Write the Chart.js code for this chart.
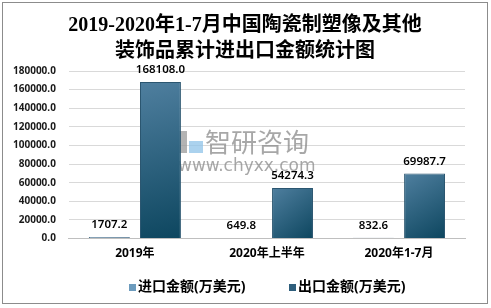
<!DOCTYPE html>
<html>
<head>
<meta charset="utf-8">
<script src="https://cdn.jsdelivr.net/npm/chart.js@4.4.1/dist/chart.umd.min.js"></script>
<style>
  html, body { margin: 0; padding: 0; background: #fff; }
  #wrap { width: 491px; height: 308px; }
</style>
</head>
<body>
<div id="wrap"><canvas id="tradeChart" width="491" height="308"></canvas></div>
<script>
const categories = ['2019年', '2020年上半年', '2020年1-7月'];
const importValues = [1707.2, 649.8, 832.6];
const exportValues = [168108.0, 54274.3, 69987.7];
const seriesNames = ['进口金额(万美元)', '出口金额(万美元)'];
const legendColors = ['#6c9bbd', '#2e5e7c'];
const titleLines = ['2019-2020年1-7月中国陶瓷制塑像及其他', '装饰品累计进出口金额统计图'];

const sansFont = '"Noto Sans", "Noto Sans CJK SC", sans-serif';

function barGradient(ctx, light, dark) {
    const chart = ctx.chart;
    if (!chart.chartArea || !chart.scales.x) return dark;
    const xs = chart.scales.x;
    const ys = chart.scales.y;
    const cx = xs.getPixelForValue(ctx.dataIndex) + (ctx.datasetIndex === 0 ? -25 : 25);
    const top = ys.getPixelForValue(ctx.raw);
    const bottom = ys.getPixelForValue(0);
    const g = chart.ctx.createLinearGradient(cx - 20, top, cx + 20, bottom);
    g.addColorStop(0, light);
    g.addColorStop(1, dark);
    return g;
}

// white page with thin grey frame, and the two-line title centred on the page
const framePlugin = {
    id: 'frame',
    beforeDraw(chart) {
        const c = chart.ctx;
        c.save();
        c.fillStyle = '#fff';
        c.fillRect(0, 0, chart.width, chart.height);
        c.strokeStyle = '#8c8c8c';
        c.lineWidth = 1;
        c.strokeRect(2.5, 2.5, 485, 301);
        c.fillStyle = '#000';
        c.font = 'bold 20px "Liberation Serif", "Noto Sans CJK SC", serif';
        c.textAlign = 'center';
        c.textBaseline = 'middle';
        titleLines.forEach((line, i) => c.fillText(line, 245, 26 + i * 26));
        c.restore();
    },
};

// faint watermark in the middle of the plot
const watermarkPlugin = {
    id: 'watermark',
    beforeDatasetsDraw(chart) {
        const c = chart.ctx;
        c.save();
        c.globalAlpha = 0.75;
        c.fillStyle = '#9a9a9a';
        c.fillRect(178, 131, 9, 22);
        c.fillStyle = '#8fc3e8';
        c.fillRect(189, 141, 14, 12);
        c.fillStyle = '#8a8a8a';
        c.font = '26px "Noto Sans CJK SC", sans-serif';
        c.textBaseline = 'middle';
        c.fillText('智研咨询', 205, 142);
        c.font = '17px "DejaVu Sans", sans-serif';
        c.fillText('www.chyxx.com', 178, 167);
        c.restore();
    },
};

// value labels above bars + legend row at the bottom
const valueLabelPlugin = {
    id: 'valueLabels',
    afterDatasetsDraw(chart) {
        const c = chart.ctx;
        c.save();
        c.fillStyle = '#000';
        c.font = '600 11.5px ' + sansFont;
        c.textAlign = 'center';
        c.textBaseline = 'middle';
        chart.data.datasets.forEach((ds, i) => {
            chart.getDatasetMeta(i).data.forEach((bar, j) => {
                c.fillText(ds.data[j].toFixed(1), bar.x, bar.y - 12);
            });
        });
        c.restore();
    },
    afterDraw(chart) {
        const c = chart.ctx;
        c.save();
        c.font = 'bold 14px ' + sansFont;
        c.textBaseline = 'middle';
        c.textAlign = 'left';
        let x = 129;
        const y = 287;
        seriesNames.forEach((name, i) => {
            c.fillStyle = legendColors[i];
            c.fillRect(x, y - 3, 7, 7);
            c.fillStyle = '#000';
            c.fillText(name, x + 9, y);
            x += 160;
        });
        c.restore();
    },
};

const ctxTrade = document.getElementById('tradeChart').getContext('2d');
const tradeChart = new Chart(ctxTrade, {
    type: 'bar',
    data: {
        labels: categories,
        datasets: [
            {
                label: seriesNames[0],
                data: importValues,
                backgroundColor: (ctx) => barGradient(ctx, '#7195b0', '#4d7390'),
                borderColor: '#3d6581',
                borderWidth: 1,
            },
            {
                label: seriesNames[1],
                data: exportValues,
                backgroundColor: (ctx) => barGradient(ctx, '#4f7f9f', '#0d465f'),
                borderColor: '#2b5670',
                borderWidth: 1,
            },
        ],
    },
    options: {
        responsive: false,
        animation: false,
        devicePixelRatio: 1,
        categoryPercentage: 0.775,
        barPercentage: 0.8,
        layout: {
            padding: { left: 0, right: 26, top: 71, bottom: 39 },
        },
        scales: {
            y: {
                min: 0,
                max: 180000,
                ticks: {
                    stepSize: 20000,
                    padding: 13,
                    color: '#1a1a1a',
                    font: { size: 10, weight: 'bold', family: sansFont },
                    callback: (v) => v.toFixed(1),
                },
                grid: { color: '#d9d9d9', drawTicks: false },
                border: { display: false },
            },
            x: {
                ticks: {
                    padding: 8,
                    color: '#000',
                    font: { size: 12, weight: 'bold', family: sansFont },
                },
                grid: { display: false, drawTicks: false },
                border: { color: '#bfbfbf' },
            },
        },
        plugins: {
            title: { display: false },
            legend: { display: false },
            tooltip: { enabled: false },
        },
    },
    plugins: [framePlugin, watermarkPlugin, valueLabelPlugin],
});
</script>
</body>
</html>
